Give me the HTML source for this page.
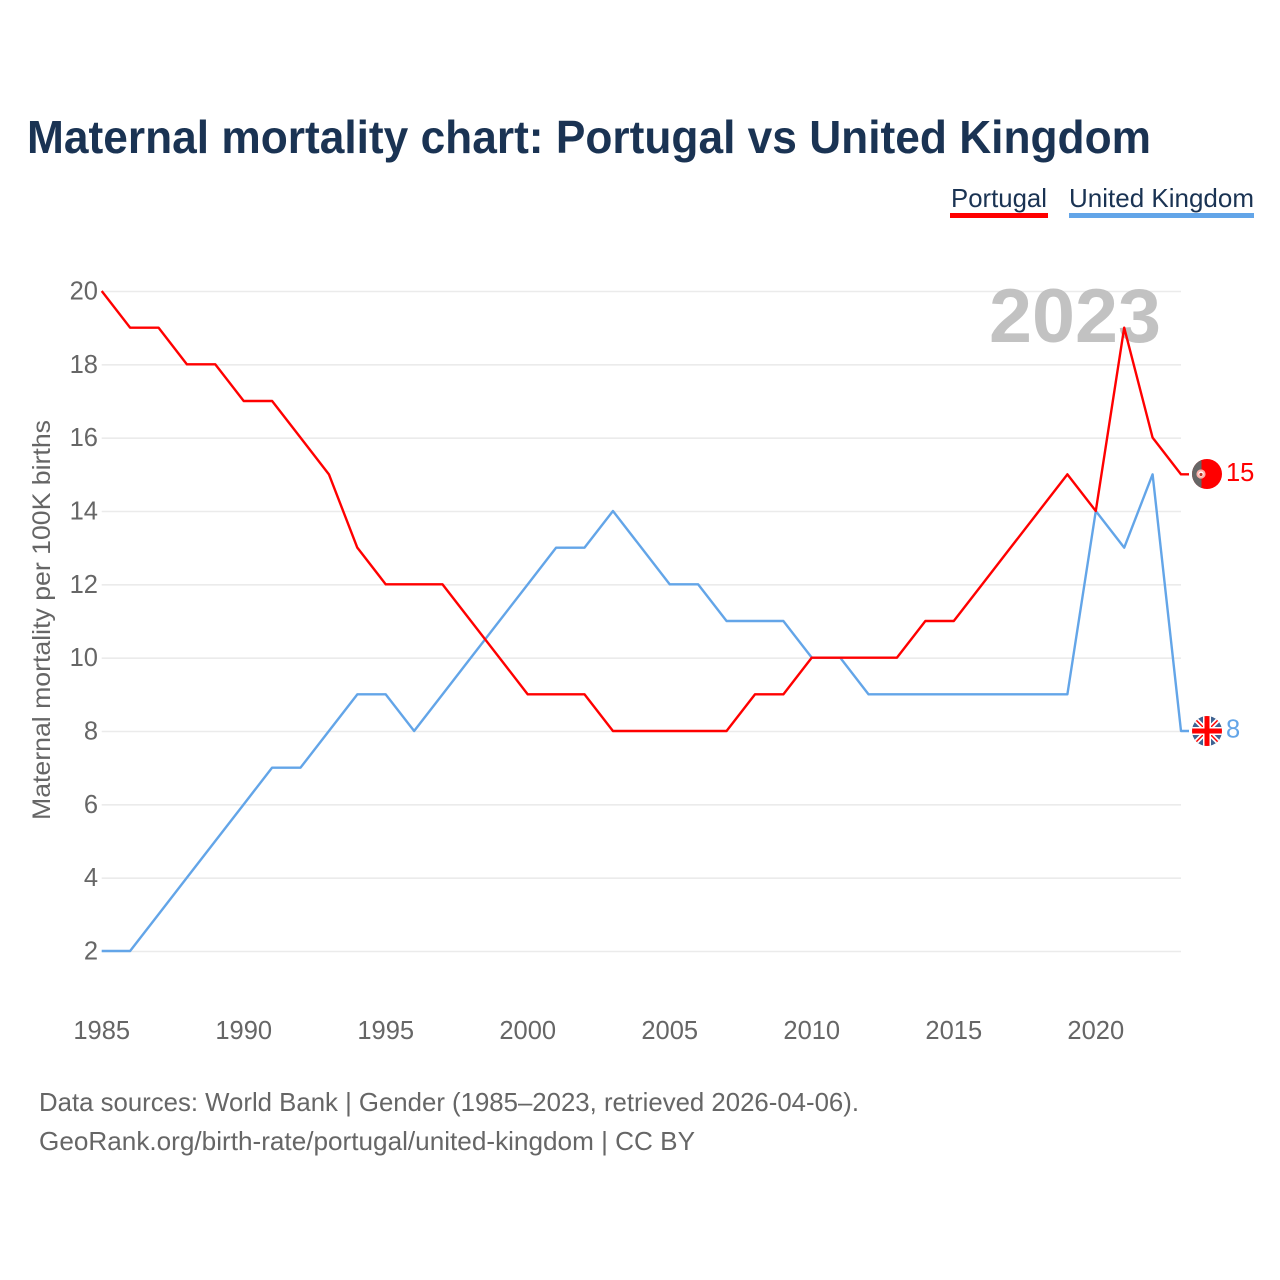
<!DOCTYPE html>
<html lang="en">
<head>
<meta charset="utf-8">
<title>Maternal mortality chart: Portugal vs United Kingdom</title>
<style>
html,body{margin:0;padding:0;background:#fff}
svg{display:block}
text{font-family:"Liberation Sans",sans-serif}
</style>
</head>
<body>
<svg id="chart" xmlns="http://www.w3.org/2000/svg" width="1280" height="1280" viewBox="0 0 1280 1280">
  <rect width="1280" height="1280" fill="#fff"/>
  <text x="27" y="153" font-size="46" font-weight="700" fill="#1a3353" textLength="1124" lengthAdjust="spacingAndGlyphs">Maternal mortality chart: Portugal vs United Kingdom</text>

  <g>
    <g>
      <text x="951" y="207" font-size="26" fill="#1a3353" textLength="96" lengthAdjust="spacingAndGlyphs">Portugal</text>
      <rect x="950" y="213" width="98" height="5" fill="#ff0000"/>
    </g>
    <g>
      <text x="1069" y="207" font-size="26" fill="#1a3353" textLength="185" lengthAdjust="spacingAndGlyphs">United Kingdom</text>
      <rect x="1069" y="213" width="185" height="5" fill="#63a5e8"/>
    </g>
  </g>

  <g id="grid"></g>
  <g id="yticks"></g>
  <g id="xticks"></g>

  <text transform="translate(50 620) rotate(-90)" text-anchor="middle" font-size="25" fill="#666" textLength="400" lengthAdjust="spacingAndGlyphs">Maternal mortality per 100K births</text>

  <text x="989" y="342" font-size="76" font-weight="700" fill="#c2c2c2" textLength="172" lengthAdjust="spacingAndGlyphs">2023</text>

  <g id="series"></g>

  <defs>
    <clipPath id="flag-clip-pt"><circle cx="1207" cy="474" r="15"/></clipPath>
    <clipPath id="flag-clip-uk"><circle cx="1207" cy="731" r="15"/></clipPath>
  </defs>

  <g clip-path="url(#flag-clip-pt)">
    <rect x="1192" y="459" width="30" height="30" fill="#ff0000"/>
    <rect x="1192" y="459" width="9.5" height="30" fill="#666666"/>
    <circle cx="1201" cy="474" r="3.6" fill="#fff" stroke="#ffb0a8" stroke-width="2"/>
    <circle cx="1201" cy="474.5" r="1.6" fill="#c0392b"/>
  </g>
  <g clip-path="url(#flag-clip-uk)">
    <rect x="1192" y="716" width="30" height="30" fill="#3f6291"/>
    <path d="M1192 716L1222 746M1222 716L1192 746" stroke="#fff" stroke-width="5"/>
    <path d="M1192 716L1222 746M1222 716L1192 746" stroke="#ff0000" stroke-width="1.5"/>
    <path d="M1207 716V746M1192 731H1222" stroke="#fff" stroke-width="8"/>
    <path d="M1207 716V746M1192 731H1222" stroke="#ff0000" stroke-width="5"/>
  </g>

  <g>
    <text x="39" y="1111" font-size="26" fill="#666" textLength="820" lengthAdjust="spacingAndGlyphs">Data sources: World Bank | Gender (1985–2023, retrieved 2026-04-06).</text>
    <text x="39" y="1150" font-size="26" fill="#666" textLength="656" lengthAdjust="spacingAndGlyphs">GeoRank.org/birth-rate/portugal/united-kingdom | CC BY</text>
  </g>
</svg>
<script>
const years = [1985,1986,1987,1988,1989,1990,1991,1992,1993,1994,1995,1996,1997,1998,1999,2000,2001,2002,2003,2004,2005,2006,2007,2008,2009,2010,2011,2012,2013,2014,2015,2016,2017,2018,2019,2020,2021,2022,2023];
const portugalValues = [20,19,19,18,18,17,17,16,15,13,12,12,12,11,10,9,9,9,8,8,8,8,8,9,9,10,10,10,10,11,11,12,13,14,15,14,19,16,15];
const ukValues = [2,2,3,4,5,6,7,7,8,9,9,8,9,10,11,12,13,13,14,13,12,12,11,11,11,10,10,9,9,9,9,9,9,9,9,14,13,15,8];
const yTickValues = [2,4,6,8,10,12,14,16,18,20];
const xTickValues = [1985,1990,1995,2000,2005,2010,2015,2020];

const SVG_NS = 'http://www.w3.org/2000/svg';
const xScale = function (year) { return 101.7 + (year - 1985) * (1181 - 101.7) / (2023 - 1985); };
const yScale = function (value) { return 951.5 - (value - 2) * (951.5 - 291.5) / (20 - 2); };

const gridGroup = document.getElementById('grid');
const yTickGroup = document.getElementById('yticks');
const xTickGroup = document.getElementById('xticks');
const seriesGroup = document.getElementById('series');

yTickValues.forEach(function (value) {
  const line = document.createElementNS(SVG_NS, 'line');
  
  
  line.setAttribute('x1', xScale(1985));
  line.setAttribute('x2', xScale(2023));
  line.setAttribute('y1', yScale(value));
  line.setAttribute('y2', yScale(value));
  line.setAttribute('stroke', '#ebebeb');
  line.setAttribute('stroke-width', '1.6');
  gridGroup.appendChild(line);

  const label = document.createElementNS(SVG_NS, 'text');
  
  
  label.setAttribute('x', 98);
  label.setAttribute('y', yScale(value) + 8);
  label.setAttribute('text-anchor', 'end');
  label.setAttribute('font-size', '25.5');
  label.setAttribute('fill', '#666');
  label.textContent = value;
  yTickGroup.appendChild(label);
});

xTickValues.forEach(function (year) {
  const label = document.createElementNS(SVG_NS, 'text');
  
  
  label.setAttribute('x', xScale(year));
  label.setAttribute('y', 1039);
  label.setAttribute('text-anchor', 'middle');
  label.setAttribute('font-size', '25.5');
  label.setAttribute('fill', '#666');
  label.textContent = year;
  xTickGroup.appendChild(label);
});

function drawSeries(values, color, seriesName) {
  const last = values[values.length - 1];
  const endYear = years[years.length - 1];
  let points = years.map(function (year, i) {
    return xScale(year).toFixed(2) + ',' + (yScale(values[i]) - 0.5).toFixed(2);
  }).join(' ');
  points += ' ' + (xScale(endYear) + 8).toFixed(2) + ',' + (yScale(last) - 0.5).toFixed(2);

  const line = document.createElementNS(SVG_NS, 'polyline');
  
  
  line.setAttribute('points', points);
  line.setAttribute('fill', 'none');
  line.setAttribute('stroke', color);
  line.setAttribute('stroke-width', '2.4');
  line.setAttribute('stroke-linejoin', 'round');
  seriesGroup.appendChild(line);

  const valueLabel = document.createElementNS(SVG_NS, 'text');
  
  
  valueLabel.setAttribute('x', 1226);
  valueLabel.setAttribute('y', yScale(last) + 6);
  valueLabel.setAttribute('font-size', '25.5');
  valueLabel.setAttribute('fill', color);
  valueLabel.textContent = last;
  seriesGroup.appendChild(valueLabel);
}

drawSeries(ukValues, '#63a5e8', 'united-kingdom');
drawSeries(portugalValues, '#ff0000', 'portugal');
</script>
</body>
</html>
